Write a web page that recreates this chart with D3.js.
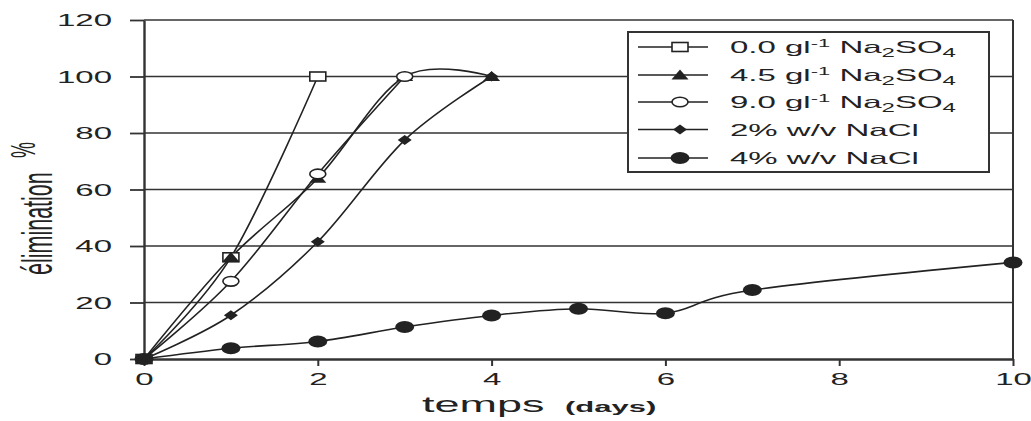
<!DOCTYPE html>
<html><head><meta charset="utf-8">
<script src="https://cdn.jsdelivr.net/npm/d3@7"></script>
<style>
html,body{margin:0;padding:0;background:#fff;}
svg{display:block;font-family:"Liberation Sans",Arial,sans-serif;}
</style></head>
<body>
<svg id="chart" width="1031" height="421"></svg>
<script>
// ---- data ----
const days = [0,1,2,3,4,5,6,7,8,9,10];
const xTicks = [0,2,4,6,8,10];
const yTicks = [0,20,40,60,80,100,120];
const s00 = [[0,0],[1,36],[2,100]];                       // 0.0 g/l Na2SO4
const s45 = [[0,0],[1,36],[2,64],[3,100],[4,100]];        // 4.5 g/l Na2SO4
const s90 = [[0,0],[1,27.5],[2,65.5],[3,100]];            // 9.0 g/l Na2SO4
const n2  = [[0,0],[1,15.5],[2,41.5],[3,77.5],[4,100]];   // 2% w/v NaCl
const n4  = [[0,0],[1,3.8],[2,6.2],[3,11.3],[4,15.4],[5,17.8],[6,16.2],[7,24.4],[10,34.2]]; // 4% w/v NaCl
const seriesNames = ["0.0","4.5","9.0","2% w/v NaCl","4% w/v NaCl"];
const markerKinds = ["square","triangle","circle","diamond","bigcircle"];
const seriesData = [s00,s45,s90,n2,n4];

// ---- layout ----
const svg = d3.select("#chart");
const X0=144, X1=1013, Y0=359, Y1=20;
const x = d3.scaleLinear().domain([0,10]).range([X0,X1]);
const y = d3.scaleLinear().domain([0,120]).range([Y0,Y1]);
const ink = "#222";
const SX = 2; // horizontal stretch of the reference

// gridlines
svg.append("g").selectAll("line").data(yTicks.filter(d=>d>0)).join("line")
  .attr("x1",X0).attr("x2",X1).attr("y1",d=>y(d)).attr("y2",d=>y(d))
  .attr("stroke","#333").attr("stroke-width",1.6);
// right border
svg.append("line").attr("x1",X1).attr("x2",X1).attr("y1",Y1).attr("y2",Y0)
  .attr("stroke","#333").attr("stroke-width",2);

// axes
const yAxis = svg.append("g").attr("transform",`translate(${X0},0)`)
  .call(d3.axisLeft(y).tickValues(yTicks).tickSize(14).tickSizeOuter(0).tickPadding(0));
yAxis.select(".domain").attr("stroke","#333").attr("stroke-width",2.4);
yAxis.selectAll(".tick line").attr("stroke","#333").attr("stroke-width",1.8);
yAxis.selectAll(".tick text")
  .attr("x",-16).attr("dy","0.36em").attr("transform",`scale(${SX},1)`)
  .attr("font-size",16.5).attr("fill",ink).attr("font-family","Liberation Sans, Arial");

const xAxis = svg.append("g").attr("transform",`translate(0,${Y0})`)
  .call(d3.axisBottom(x).tickValues(xTicks).tickSize(7).tickSizeOuter(0));
xAxis.select(".domain").attr("stroke","#333").attr("stroke-width",2.4);
xAxis.selectAll(".tick line").attr("stroke","#333").attr("stroke-width",2);
xAxis.selectAll(".tick text")
  .attr("y",26).attr("dy",0).attr("transform",`scale(${SX},1)`)
  .attr("font-size",16.5).attr("fill",ink).attr("font-family","Liberation Sans, Arial");

// axis titles
const xt = svg.append("text").attr("transform",`translate(422,412) scale(${SX},1)`).attr("fill",ink);
xt.append("tspan").attr("font-size",22.5).text("temps");
xt.append("tspan").attr("x",71.5).attr("font-size",15.5).attr("font-weight","bold").text("(days)");

const yt = svg.append("text").attr("transform",`translate(52,275) rotate(-90) scale(1,${SX})`).attr("fill",ink);
yt.append("tspan").attr("font-size",21.5).text("élimination");
yt.append("tspan").attr("x",117).attr("dy",-8.5).attr("font-size",18).text("%");

// lines
const line = d3.line().x(d=>x(d[0])).y(d=>y(d[1])).curve(d3.curveCardinal.tension(0));
svg.append("g").selectAll("path").data(seriesData).join("path")
  .attr("d",line).attr("fill","none").attr("stroke",ink).attr("stroke-width",1.6);

// markers
function drawMarker(g, kind, cx, cy){
  if(kind==="square"){
    g.append("rect").attr("x",cx-8).attr("y",cy-4.5).attr("width",16).attr("height",9)
      .attr("fill","#fff").attr("stroke",ink).attr("stroke-width",1.6);
  } else if(kind==="triangle"){
    g.append("path").attr("d",`M${cx},${cy-5.5}L${cx+8.5},${cy+4.5}L${cx-8.5},${cy+4.5}Z`).attr("fill",ink);
  } else if(kind==="circle"){
    g.append("ellipse").attr("cx",cx).attr("cy",cy).attr("rx",8).attr("ry",4.8)
      .attr("fill","#fff").attr("stroke",ink).attr("stroke-width",1.6);
  } else if(kind==="diamond"){
    g.append("path").attr("d",`M${cx},${cy-5}L${cx+7},${cy}L${cx},${cy+5}L${cx-7},${cy}Z`).attr("fill",ink);
  } else {
    g.append("ellipse").attr("cx",cx).attr("cy",cy).attr("rx",9.5).attr("ry",6).attr("fill",ink);
  }
}
const mk = svg.append("g");
seriesData.forEach((s,i)=>{
  s.forEach(d=>drawMarker(mk, markerKinds[i], x(d[0]), y(d[1])));
});

// legend
const lg = svg.append("g");
lg.append("rect").attr("x",628).attr("y",32).attr("width",361).attr("height",140)
  .attr("fill","#fff").attr("stroke","#333").attr("stroke-width",2);
const rowY = [47,75,102,129.5,158];
seriesNames.forEach((nm,i)=>{
  const ry = rowY[i];
  lg.append("line").attr("x1",638).attr("x2",708).attr("y1",ry).attr("y2",ry)
    .attr("stroke",ink).attr("stroke-width",1.6);
  drawMarker(lg, markerKinds[i], 680, ry);
  const t = lg.append("text").attr("transform",`translate(730,${ry+6}) scale(${SX},1)`)
    .attr("font-size",16.5).attr("fill",ink);
  if(i<3){
    t.append("tspan").text(nm+" gl");
    t.append("tspan").attr("dy",-6).attr("font-size",11).text("-1");
    t.append("tspan").attr("dy",6).text(" Na");
    t.append("tspan").attr("dy",4).attr("font-size",12).text("2");
    t.append("tspan").attr("dy",-4).text("SO");
    t.append("tspan").attr("dy",4).attr("font-size",12).text("4");
  } else {
    t.text(nm);
  }
});
</script>
</body></html>
